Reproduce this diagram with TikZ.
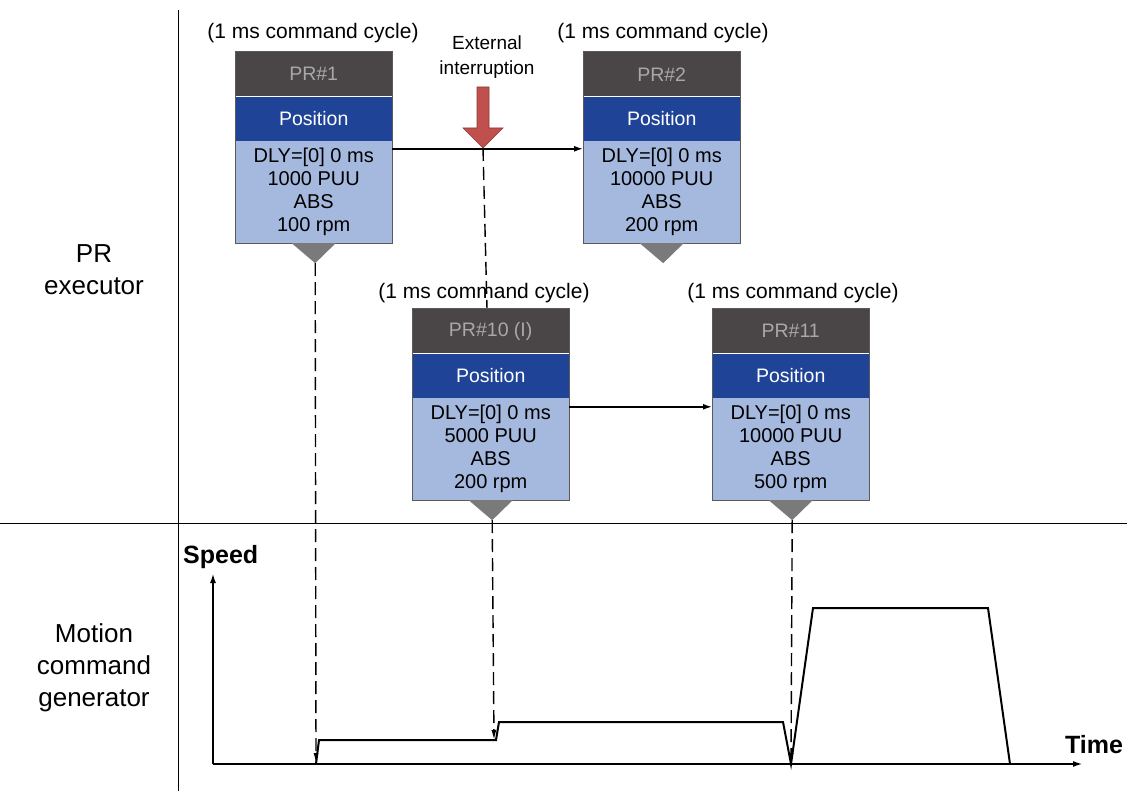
\documentclass[tikz,border=0pt]{standalone}
\usepackage{fontspec}
\setmainfont{Liberation Sans}
\usetikzlibrary{arrows.meta}
\definecolor{hdrc}{HTML}{4A4647}
\definecolor{hdrtxt}{HTML}{A8A8A8}
\definecolor{posc}{HTML}{1F4497}
\definecolor{bodyc}{HTML}{A5B9DF}
\definecolor{bordc}{HTML}{5A5A5A}
\definecolor{tric}{HTML}{7A7A7A}
\definecolor{redc}{HTML}{C0504D}
\definecolor{redd}{HTML}{8C3836}
\begin{document}
\begin{tikzpicture}[x=1pt,y=-1pt,
  hdr/.style={fill=hdrc, text=hdrtxt, minimum width=157pt, minimum height=44pt, inner sep=0pt, font=\fontsize{19.5}{23}\selectfont, anchor=north west},
  posbox/.style={fill=posc, text=white, minimum width=157pt, minimum height=44pt, inner sep=0pt, font=\fontsize{19.5}{23}\selectfont, anchor=north},
  bodybox/.style={fill=bodyc, minimum width=157pt, minimum height=102pt, inner sep=0pt, align=center, font=\fontsize{20}{23}\selectfont, anchor=north},
  boxborder/.style={draw=bordc, line width=1pt},
  cyc/.style={font=\fontsize{21}{24}\selectfont, inner sep=0pt},
  side/.style={font=\fontsize{26}{32}\selectfont, align=center, inner sep=0pt},
  axlabel/.style={font=\bfseries\fontsize{25}{28}\selectfont, inner sep=0pt},
  conn/.style={line width=1.5pt, -{Latex[length=9pt,width=6pt]}},
  dashconn/.style={line width=1.4pt, dash pattern=on 13pt off 6pt, -{Latex[length=10pt,width=5pt]}},
  dashplain/.style={line width=1.4pt, dash pattern=on 13pt off 6pt},
  curve/.style={line width=2pt, line join=miter},
  axis/.style={line width=2pt, -{Latex[length=10pt,width=6pt]}},
  divider/.style={line width=1pt}
]
\useasboundingbox (0,0) rectangle (1127,791);

% dividers
\draw[divider] (178,10) -- (178,791);
\draw[divider] (0,523) -- (1127,523);

% side labels
\node[side] (pre) at (94,270) {PR\\executor};
\node[side] (mcg) at (94,668) {Motion\\command\\generator};

% cycle labels
\node[cyc] (c1) at (313,33) {(1 ms command cycle)};
\node[cyc] (c2) at (663,33) {(1 ms command cycle)};
\node[cyc] (c10) at (484,293) {(1 ms command cycle)};
\node[cyc] (c11) at (793,293) {(1 ms command cycle)};

% dashed line from interruption to PR#10
\coordinate (ra) at (483,148);
\coordinate (p10top) at (487,309);
\draw[dashplain] (ra) -- (p10top);

% PR boxes
\newcommand{\prbox}[5]{%
  \node[hdr] (#1h) at (#2) {#3};
  \node[posbox] (#1p) at (#1h.south) {Position};
  \node[bodybox] (#1b) at (#1p.south) {#4};
  \draw[boxborder] (#1h.north west) rectangle (#1b.south east);
  \fill[tric] ([xshift=-22pt]#1b.south) -- ([xshift=22pt]#1b.south) -- ([xshift=1.5pt,yshift=-20pt]#1b.south) -- cycle;
  \coordinate (#1t) at ([xshift=1.5pt,yshift=-20pt]#1b.south);
}
\prbox{pa}{235,52}{PR\#1}{DLY=[0] 0 ms\\1000 PUU\\ABS\\100 rpm}{}
\prbox{pb}{583,52}{PR\#2}{DLY=[0] 0 ms\\10000 PUU\\ABS\\200 rpm}{}
\prbox{pc}{412,309}{PR\#10 (I)}{DLY=[0] 0 ms\\5000 PUU\\ABS\\200 rpm}{}
\prbox{pd}{712,309}{PR\#11}{DLY=[0] 0 ms\\10000 PUU\\ABS\\500 rpm}{}

% connectors between boxes
\draw[conn] ([yshift=-8pt]pab.north east) -- ([yshift=-8pt]pbb.north west);
\draw[conn] ([yshift=-9pt]pcb.north east) -- ([yshift=-9pt]pdb.north west);

% external interruption arrow
\node[font=\fontsize{19}{25}\selectfont, align=center, inner sep=0pt] (ext) at (487,57) {External\\interruption};
\filldraw[fill=redc, draw=redd, line width=0.6pt] (477,87) -- (489,87) -- (489,128) -- (503,128) -- (ra) -- (463,128) -- (477,128) -- cycle;

% axes
\coordinate (o) at (213,764);
\coordinate (ytop) at (213,573);
\coordinate (xend) at (1083,764);
\draw[axis] (o) -- (ytop);
\draw[axis] (o) -- (xend);
\node[axlabel, anchor=west] (spd) at (183,557) {Speed};
\node[axlabel] (tim) at (1094,745) {Time};

% speed profile
\draw[curve] (316,764) -- (319,740) -- (496,740) -- (499,722) -- (783,722) -- (791,764) -- (813,608) -- (988,608) -- (1010,764);

% dashed connectors to speed profile
\coordinate (s1) at (316,763);
\coordinate (s2) at (494,740);
\coordinate (s3) at (791,763);
\draw[dashconn] (pat) -- (s1);
\draw[dashconn] (pct) -- (s2);
\draw[dashconn] (pdt) -- (s3);
\end{tikzpicture}
\end{document}
